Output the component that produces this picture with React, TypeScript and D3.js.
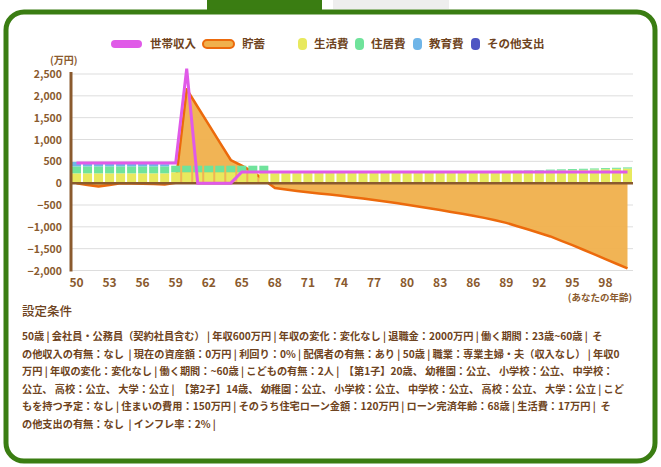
import React from "react";
import * as d3 from "d3";

const ages = [50,51,52,53,54,55,56,57,58,59,60,61,62,63,64,65,66,67,68,69,70,71,72,73,74,75,76,77,78,79,80,81,82,83,84,85,86,87,88,89,90,91,92,93,94,95,96,97,98,99,100];

const income = [460,460,460,460,460,460,460,460,460,460,2620,0,0,0,0,255,255,255,255,255,255,255,255,255,255,255,255,255,255,255,255,255,255,255,255,255,255,255,255,255,255,255,255,255,255,255,255,255,255,255,255];

const savings = [0,-40,-75,-40,-5,-10,-15,-20,-30,10,2150,1745,1340,935,530,400,260,80,-110,-145,-180,-210,-235,-260,-290,-320,-350,-385,-420,-455,-495,-535,-575,-615,-660,-700,-745,-795,-850,-910,-985,-1060,-1140,-1220,-1320,-1420,-1525,-1630,-1740,-1845,-1950];

const living = [225,225,225,225,225,225,225,225,225,250,250,250,250,250,250,250,250,250,228,229,230,231,232,233,234,235,236,237,238,240,242,244,246,248,250,252,255,258,262,266,270,275,280,286,292,298,305,312,320,328,336];

const housing = [160,160,160,160,160,160,160,160,160,150,150,150,150,150,150,150,150,150,0,0,0,0,0,0,0,0,10,10,10,10,10,10,10,10,10,10,15,15,15,15,15,15,15,25,25,25,25,25,25,25,25];

const education = [100,90,80,75,70,70,65,65,50,0,0,0,0,0,0,0,0,0,0,0,0,0,0,0,0,0,0,0,0,0,0,0,0,0,0,0,0,0,0,0,0,0,0,0,0,0,0,0,0,0,0];

const other = [0,0,0,0,0,0,0,0,0,0,0,0,0,0,0,0,0,0,0,0,0,0,0,0,0,0,0,0,0,0,0,0,0,0,0,0,0,0,0,0,0,0,0,0,0,0,0,0,0,0,0];

const yTicks = [2500,2000,1500,1000,500,0,-500,-1000,-1500,-2000];
const xTickAges = [50,53,56,59,62,65,68,71,74,77,80,83,86,89,92,95,98];

const lineLabels = ["世帯収入", "貯蓄"];
const barLabels = ["生活費", "住居費", "教育費", "その他支出"];
const barKeys = ["living", "housing", "education", "other"];

const conditionsTitle = "設定条件";
const conditionLines = [
  "50歳 | 会社員・公務員（契約社員含む） | 年収600万円 | 年収の変化：変化なし | 退職金：2000万円 | 働く期間：23歳~60歳 |  そ",
  "の他収入の有無：なし  | 現在の資産額：0万円 | 利回り：0% | 配偶者の有無：あり | 50歳 | 職業：専業主婦・夫（収入なし） | 年収0",
  "万円 | 年収の変化：変化なし | 働く期間：~60歳 | こどもの有無：2人 |  【第1子】20歳、 幼稚園：公立、 小学校：公立、 中学校：",
  "公立、 高校：公立、 大学：公立 |  【第2子】14歳、 幼稚園：公立、 小学校：公立、 中学校：公立、 高校：公立、 大学：公立 | こど",
  "もを持つ予定：なし | 住まいの費用：150万円 | そのうち住宅ローン金額：120万円 | ローン完済年齢：68歳 | 生活費：17万円 |  そ",
  "の他支出の有無：なし  | インフレ率：2% |",
];

const FONT = "'Noto Sans CJK JP', 'Noto Sans', sans-serif";
const BROWN = "#6e4320";
const AXIS_BROWN = "#8a5a2e";
const barColors = ["#e8e95e", "#6fe39b", "#6fb5e8", "#4e55c3"];
const INCOME_COLOR = "#e05ae8";
const SAVE_STROKE = "#ec6a0c";
const SAVE_FILL = "#f0b04c";

export default function App() {
  const W = 661, H = 467;
  const left = 71, right = 633;
  const x = d3.scalePoint<number>().domain(ages).range([76.5, 627.5]);
  const y = d3.scaleLinear().domain([-2000, 2500]).range([270.5, 74]);
  const barW = 9;

  const rows = ages.map((a, i) => ({
    age: a,
    living: living[i],
    housing: housing[i],
    education: education[i],
    other: other[i],
  }));
  const stacked = d3.stack<any>().keys(barKeys)(rows);

  const area = d3
    .area<number>()
    .x((_, i) => x(ages[i]) as number)
    .y0(y(0))
    .y1((d) => y(d));
  const line = d3
    .line<number>()
    .x((_, i) => x(ages[i]) as number)
    .y((d) => y(d));

  const legendY = 44;

  return (
    <div style={{ position: "fixed", left: 0, top: 0, width: W, height: H, background: "#fff" }}>
      <svg width={W} height={H} style={{ display: "block" }} fontFamily={FONT}>
        <rect x={0} y={0} width={W} height={H} fill="#fff" />
        {/* tabs */}
        <rect x={207} y={0} width={115} height={13} fill="#3a7d12" />
        <rect x={333} y={0} width={116} height={9} fill="#eeeeee" />
        {/* frame */}
        <rect x={6} y={12} width={649} height={449} rx={18} ry={18} fill="none" stroke="#3a7d12" strokeWidth={5} />

        {/* legend */}
        <g fontSize={11.5} fontWeight={700} fill={BROWN}>
          <rect x={111} y={legendY - 4} width={31} height={8} rx={4} fill={INCOME_COLOR} />
          <text x={150} y={legendY + 4}>{lineLabels[0]}</text>
          <rect x={203} y={legendY - 4} width={31} height={8} rx={4} fill={SAVE_FILL} stroke={SAVE_STROKE} strokeWidth={2} />
          <text x={242} y={legendY + 4}>{lineLabels[1]}</text>
          {[298, 355, 413, 471].map((lx, i) => (
            <g key={i}>
              <rect x={lx} y={legendY - 6} width={9} height={12} rx={4} fill={barColors[i]} />
              <text x={lx + 16} y={legendY + 4}>{barLabels[i]}</text>
            </g>
          ))}
        </g>

        {/* unit */}
        <text x={50} y={64} fontSize={10} fontWeight={700} fill={AXIS_BROWN}>(万円)</text>

        {/* gridlines */}
        {yTicks.map((t) => (
          <line key={t} x1={left} x2={right} y1={y(t)} y2={y(t)} stroke="#dddddd" strokeWidth={1} />
        ))}
        {/* y tick labels */}
        {yTicks.map((t) => (
          <text key={"l" + t} x={62} y={y(t) + 4} textAnchor="end" fontSize={10.5} fontWeight={700} fill={AXIS_BROWN}>
            {d3.format(",")(t)}
          </text>
        ))}

        {/* savings area */}
        <path d={area(savings) || ""} fill={SAVE_FILL} opacity={0.95} />
        <path d={line(savings) || ""} fill="none" stroke={SAVE_STROKE} strokeWidth={2.5} strokeLinejoin="round" />

        {/* bars */}
        {stacked.map((layer, li) => (
          <g key={li} fill={barColors[li]}>
            {layer.map((d, i) => {
              const h = y(d[0]) - y(d[1]);
              if (h <= 0) return null;
              return (
                <rect key={i} x={(x(ages[i]) as number) - barW / 2} y={y(d[1])} width={barW} height={h} />
              );
            })}
          </g>
        ))}

        {/* zero line and y axis */}
        <line x1={left} x2={right} y1={y(0)} y2={y(0)} stroke={AXIS_BROWN} strokeWidth={2.5} />
        <line x1={left} x2={left} y1={72} y2={271.5} stroke={AXIS_BROWN} strokeWidth={3} />

        {/* income line */}
        <path d={line(income) || ""} fill="none" stroke={INCOME_COLOR} strokeWidth={3} strokeLinejoin="miter" />

        {/* x labels */}
        {xTickAges.map((a) => (
          <text key={a} x={x(a)} y={287} textAnchor="middle" fontSize={12} fontWeight={700} fill={AXIS_BROWN}>
            {a}
          </text>
        ))}
        <text x={632} y={301} textAnchor="end" fontSize={9.5} fontWeight={700} fill={AXIS_BROWN}>(あなたの年齢)</text>

        {/* conditions */}
        <text x={22} y={316} fontSize={12.5} fontWeight={500} fill={BROWN}>{conditionsTitle}</text>
        <g fontSize={10.2} fontWeight={700} fill={BROWN}>
          {conditionLines.map((s, i) => (
            <text key={i} x={22} y={340 + i * 17.5} style={{ whiteSpace: "pre" }}>{s}</text>
          ))}
        </g>
      </svg>
    </div>
  );
}
